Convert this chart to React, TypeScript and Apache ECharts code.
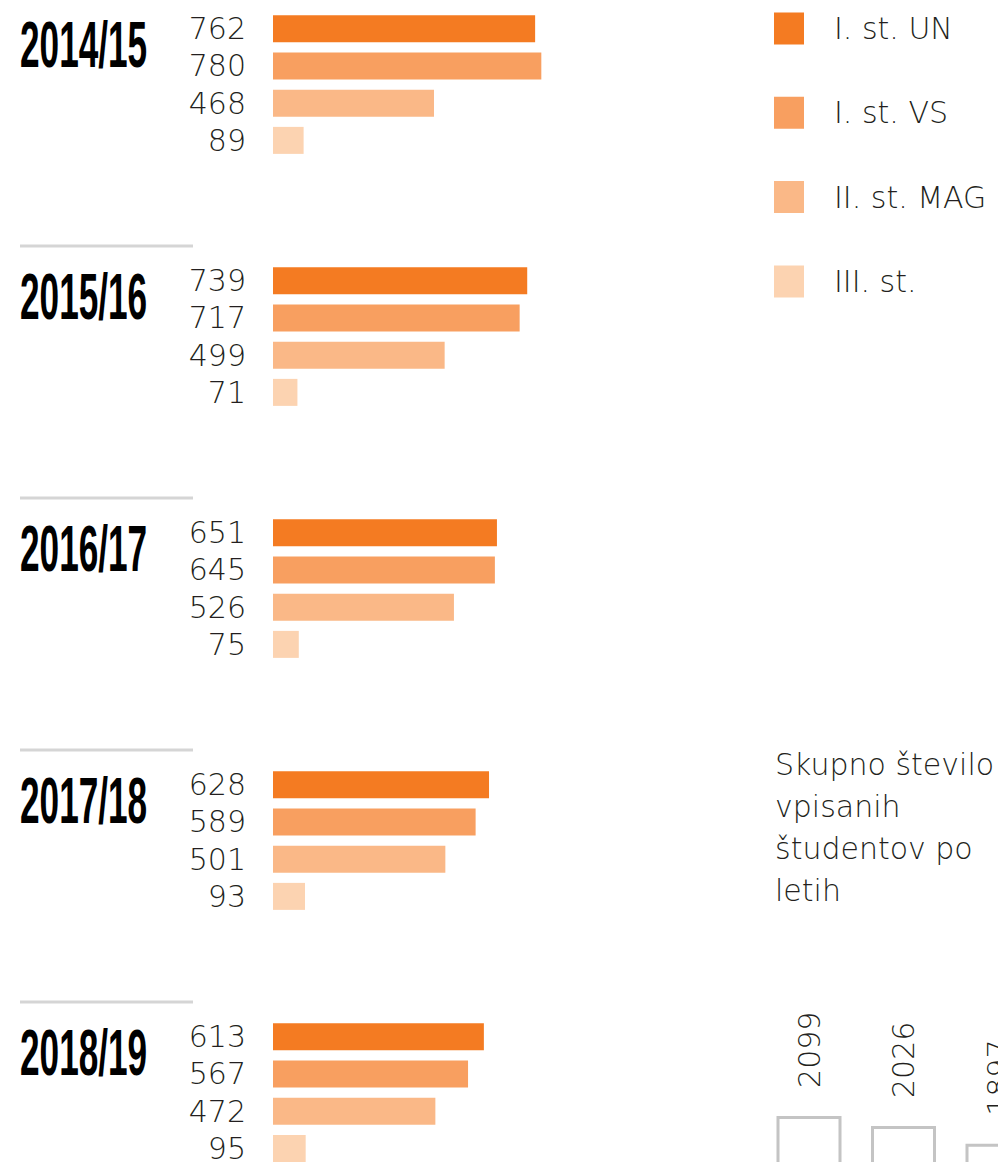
import React, { useEffect, useRef } from "react";
import * as echarts from "echarts";

const years = ["2014/15", "2015/16", "2016/17", "2017/18", "2018/19"];
const levels = ["I. st. UN", "I. st. VS", "II. st. MAG", "III. st."];
const colors = ["#F47B22", "#F89F60", "#FAB887", "#FCD3B1"];
const un = [762, 739, 651, 628, 613];
const vs = [780, 717, 645, 589, 567];
const mag = [468, 499, 526, 501, 472];
const phd = [89, 71, 75, 93, 95];
const totals = [2099, 2026, 1897, 1811, 1747];
const totalTitle = "Skupno število\nvpisanih\nštudentov po\nletih";

const levelData = [un, vs, mag, phd];
const valueFont = "'DejaVu Sans', sans-serif";
const fs = 30;

export default function App() {
  const ref = useRef<HTMLDivElement>(null);
  useEffect(() => {
    if (!ref.current) return;
    const chart = echarts.init(ref.current, null, { renderer: "svg" });
    const groupStep = 252;
    const grids: any[] = [];
    const xAxes: any[] = [];
    const yAxes: any[] = [];
    const series: any[] = [];
    years.forEach((y, i) => {
      grids.push({ left: 273, top: 10 + groupStep * i, width: 344, height: 149 });
      xAxes.push({ gridIndex: i, type: "value", min: 0, max: 1000, show: false });
      yAxes.push({ gridIndex: i, type: "category", data: levels, inverse: true, show: false });
      series.push({
        type: "bar",
        xAxisIndex: i,
        yAxisIndex: i,
        barWidth: 27,
        data: levels.map((_, j) => ({ value: levelData[j][i], itemStyle: { color: colors[j] } })),
        label: {
          show: true,
          position: "left",
          distance: 27,
          fontSize: fs,
          fontWeight: 200,
          fontFamily: valueFont,
          color: "#231f20",
        },
      });
    });
    // totals chart
    const ti = years.length;
    grids.push({ left: 761.75, top: 1102, width: 472.5, height: 303.6 });
    xAxes.push({ gridIndex: ti, type: "category", data: years, show: false });
    yAxes.push({ gridIndex: ti, type: "value", min: 0, max: 2200, show: false });
    series.push({
      type: "bar",
      xAxisIndex: ti,
      yAxisIndex: ti,
      barWidth: 65,
      data: totals,
      itemStyle: { color: "#ffffff", borderColor: "#c4c4c4", borderWidth: 3 },
      label: {
        show: true,
        position: "top",
        rotate: 90,
        align: "left",
        verticalAlign: "middle",
        distance: 28,
        fontSize: fs,
        fontWeight: 200,
        fontFamily: valueFont,
        color: "#231f20",
      },
    });

    const graphics: any[] = [];
    years.forEach((y, i) => {
      graphics.push({
        type: "text",
        x: 20,
        y: 45 + groupStep * i,
        scaleX: 0.55,
        style: {
          text: y,
          x: 0,
          y: 0,
          fontSize: 64,
          fontWeight: "bold",
          fontFamily: "'Liberation Sans', Arial, sans-serif",
          fill: "#000",
          verticalAlign: "middle",
          align: "left",
        },
      });
      if (i > 0) {
        graphics.push({
          type: "line",
          shape: { x1: 20, y1: 246 + groupStep * (i - 1), x2: 193, y2: 246 + groupStep * (i - 1) },
          style: { stroke: "#d5d5d5", lineWidth: 3 },
        });
      }
    });
    levels.forEach((l, j) => {
      const cy = 28.5 + 84.3 * j;
      graphics.push({
        type: "rect",
        shape: { x: 774, y: cy - 16, width: 30, height: 32 },
        style: { fill: colors[j] },
      });
      graphics.push({
        type: "text",
        x: 834,
        y: cy,
        style: {
          text: l,
          fontSize: fs,
          fontWeight: 200,
          fontFamily: valueFont,
          fill: "#231f20",
          verticalAlign: "middle",
          align: "left",
        },
      });
    });
    graphics.push({
      type: "text",
      x: 775,
      y: 743,
      style: {
        text: totalTitle,
        fontSize: fs,
        lineHeight: 42,
        fontWeight: 200,
        fontFamily: valueFont,
        fill: "#231f20",
        verticalAlign: "top",
        align: "left",
      },
    });

    chart.setOption({
      animation: false,
      backgroundColor: "#ffffff",
      grid: grids,
      xAxis: xAxes,
      yAxis: yAxes,
      series,
      graphic: graphics,
    });
    return () => chart.dispose();
  }, []);
  return (
    <div
      style={{
        position: "absolute",
        left: 0,
        top: 0,
        width: 998,
        height: 1162,
        overflow: "hidden",
        background: "#fff",
      }}
    >
      <div ref={ref} style={{ width: 1300, height: 1450 }} />
    </div>
  );
}
